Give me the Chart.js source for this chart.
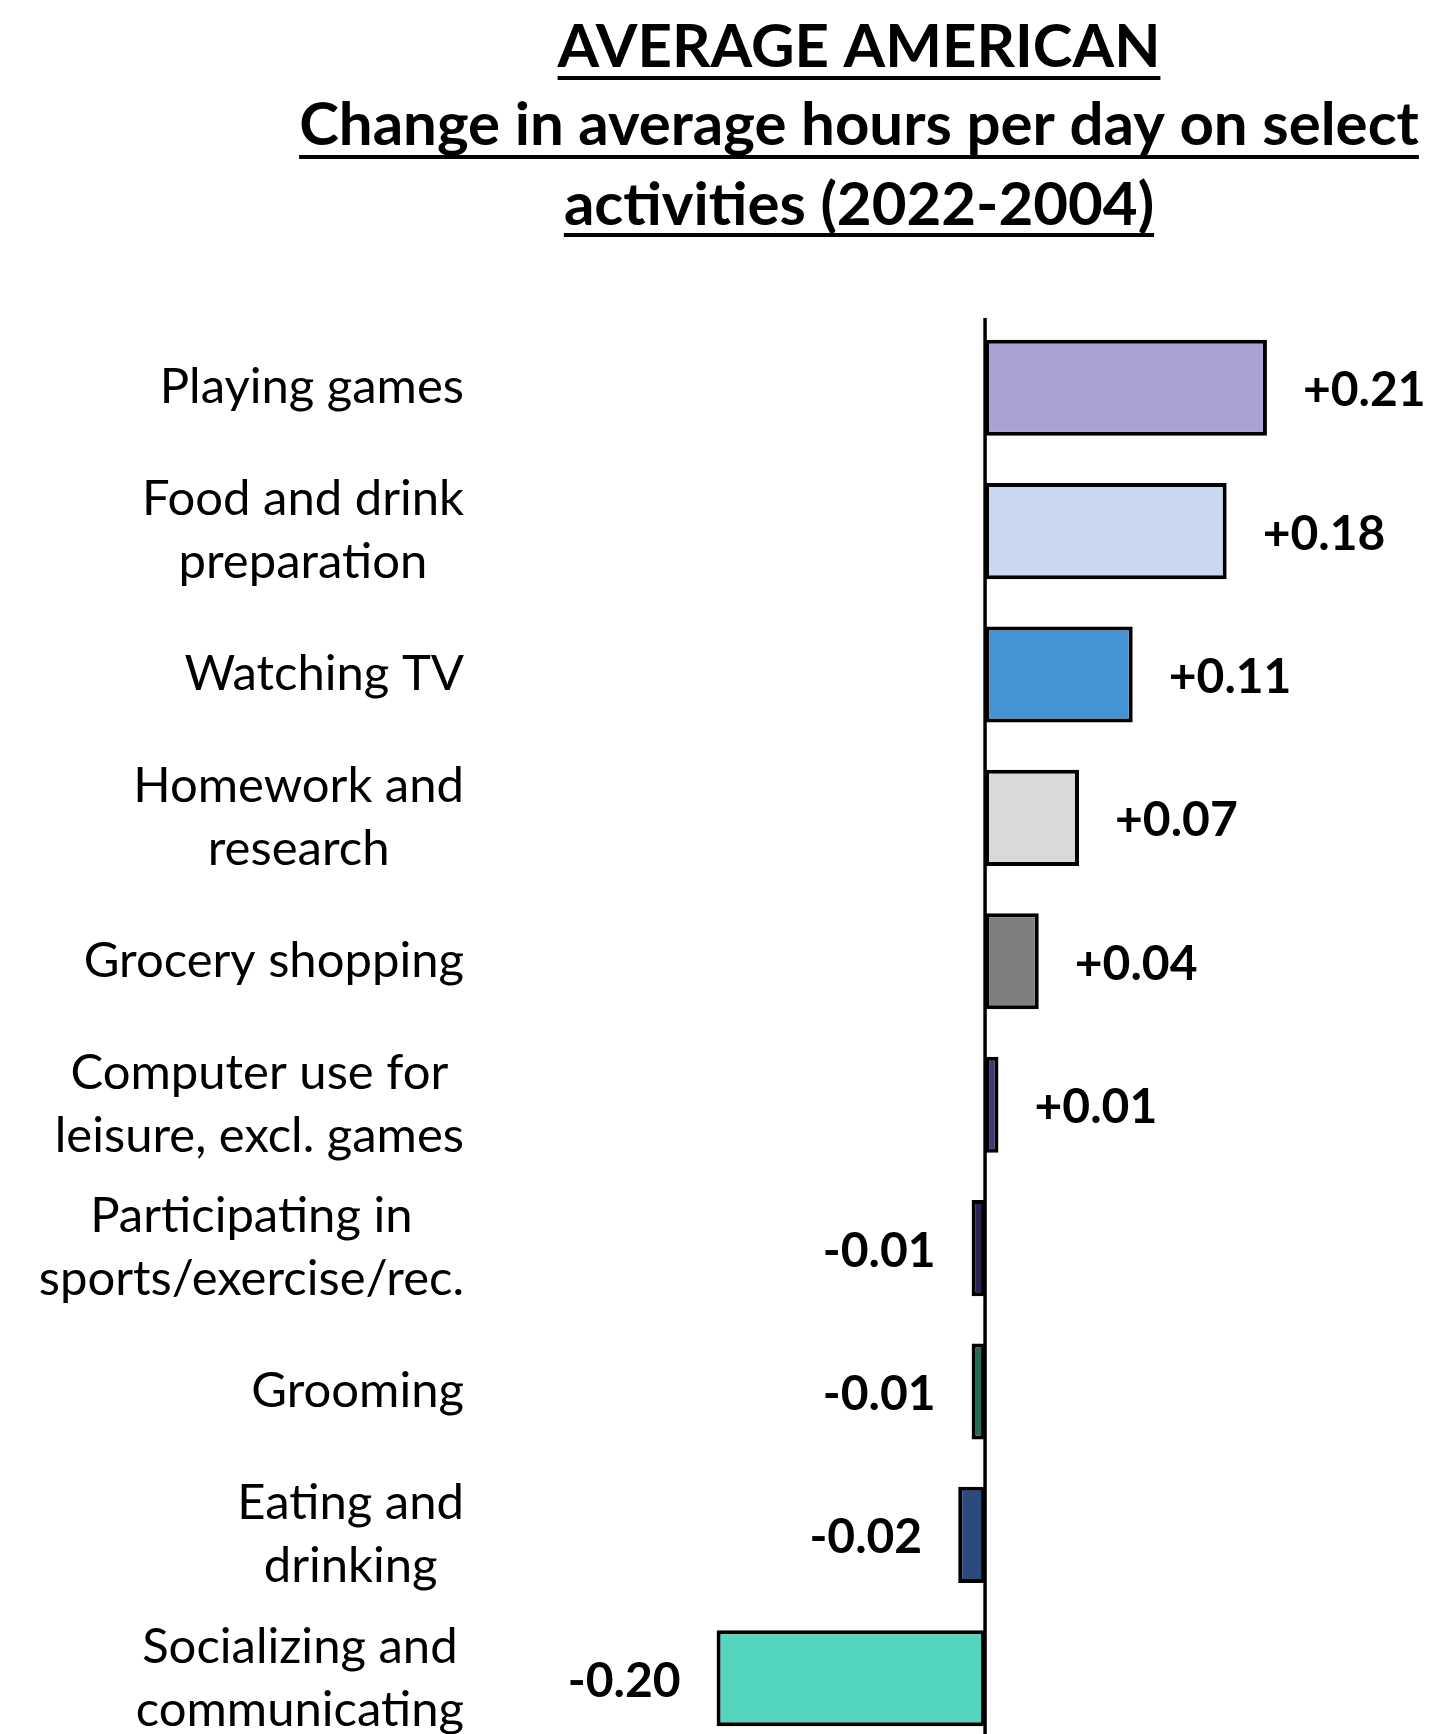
<!DOCTYPE html>
<html>
<head>
<meta charset="utf-8">
<script src="https://cdn.jsdelivr.net/npm/chart.js@4/dist/chart.umd.min.js"></script>
<style>
  html, body { margin: 0; padding: 0; background: #ffffff; }
  #wrap { position: relative; width: 1433px; height: 1734px; overflow: hidden; }
  #chart { display: block; }
</style>
</head>
<body>
<div id="wrap"><canvas id="chart" width="1433" height="1752"></canvas></div>
<script>
// Activities, top to bottom (each entry is a list of label lines)
const categories = [
  ['Playing games'],
  ['Food and drink', 'preparation'],
  ['Watching TV'],
  ['Homework and', 'research'],
  ['Grocery shopping'],
  ['Computer use for', 'leisure, excl. games'],
  ['Participating in', 'sports/exercise/rec.'],
  ['Grooming'],
  ['Eating and', 'drinking'],
  ['Socializing and', 'communicating']
];

// Change in average hours per day, 2022 vs 2004
const changeHours = [0.21, 0.18, 0.11, 0.07, 0.04, 0.01, -0.01, -0.01, -0.02, -0.20];

const barColors = [
  '#ABA1D3', '#C9D8F0', '#4494D3', '#D9D9D9', '#7F7F7F',
  '#46357A', '#2B2350', '#276B57', '#2C4A7E', '#54D5BE'
];

const titleLines = [
  'AVERAGE AMERICAN',
  'Change in average hours per day on select',
  'activities (2022-2004)'
];

const FONT = 'Lato, "Noto Sans", sans-serif';

// Underlined, centred title above the plot
const titlePlugin = {
  id: 'underlinedTitle',
  afterDraw(chart) {
    const ctx = chart.ctx;
    const cx = 859;
    const baselines = [67, 145, 225];
    const underlines = [76, 155, 233];
    ctx.save();
    ctx.font = 'bold 60px ' + FONT;
    ctx.fillStyle = '#000000';
    ctx.textAlign = 'center';
    ctx.textBaseline = 'alphabetic';
    titleLines.forEach((line, i) => {
      ctx.fillText(line, cx, baselines[i]);
      const w = ctx.measureText(line).width;
      ctx.fillRect(cx - w / 2, underlines[i], w, 4);
    });
    ctx.restore();
  }
};

// Category names, each block right-aligned to the label column with its lines centred
const categoryLabelPlugin = {
  id: 'categoryLabels',
  afterDraw(chart) {
    const ctx = chart.ctx;
    const yScale = chart.scales.y;
    const rightEdge = 464;
    const lineGap = 63;
    ctx.save();
    ctx.font = '49px ' + FONT;
    ctx.fillStyle = '#000000';
    ctx.textAlign = 'center';
    ctx.textBaseline = 'middle';
    categories.forEach((lines, i) => {
      const yc = yScale.getPixelForValue(i);
      const blockW = Math.max(...lines.map(l => ctx.measureText(l).width));
      const cx = rightEdge - blockW / 2;
      const y0 = yc - (lines.length - 1) * lineGap / 2;
      lines.forEach((l, j) => ctx.fillText(l, cx, y0 + j * lineGap));
    });
    ctx.restore();
  }
};

// Zero axis line and signed value labels beside each bar
const valuePlugin = {
  id: 'valueLabels',
  afterDatasetsDraw(chart) {
    const ctx = chart.ctx;
    const xScale = chart.scales.x;
    const area = chart.chartArea;
    const x0 = xScale.getPixelForValue(0);
    ctx.save();
    ctx.strokeStyle = '#000000';
    ctx.lineWidth = 3.5;
    ctx.beginPath();
    ctx.moveTo(x0, area.top + 2);
    ctx.lineTo(x0, area.bottom);
    ctx.stroke();

    ctx.font = 'bold 48px ' + FONT;
    ctx.fillStyle = '#000000';
    ctx.textBaseline = 'middle';
    const meta = chart.getDatasetMeta(0);
    meta.data.forEach((bar, i) => {
      const v = changeHours[i];
      const txt = (v > 0 ? '+' : '') + v.toFixed(2);
      if (v >= 0) {
        ctx.textAlign = 'left';
        ctx.fillText(txt, bar.x + 36, bar.y + 3);
      } else {
        ctx.textAlign = 'right';
        ctx.fillText(txt, bar.x - 36, bar.y + 3);
      }
    });
    ctx.restore();
  }
};

new Chart(document.getElementById('chart'), {
  type: 'bar',
  data: {
    labels: categories,
    datasets: [{
      data: changeHours,
      backgroundColor: barColors,
      borderColor: '#000000',
      borderWidth: 4,
      borderSkipped: false,
      barPercentage: 0.67,
      categoryPercentage: 1.0
    }]
  },
  options: {
    indexAxis: 'y',
    responsive: false,
    animation: false,
    layout: { padding: { top: 316, bottom: 2, left: 475, right: 5 } },
    plugins: {
      legend: { display: false },
      tooltip: { enabled: false },
      title: { display: false }
    },
    scales: {
      x: {
        display: false,
        min: -0.38,
        max: 0.33
      },
      y: {
        display: false,
        offset: true
      }
    }
  },
  plugins: [titlePlugin, categoryLabelPlugin, valuePlugin]
});
</script>
</body>
</html>
